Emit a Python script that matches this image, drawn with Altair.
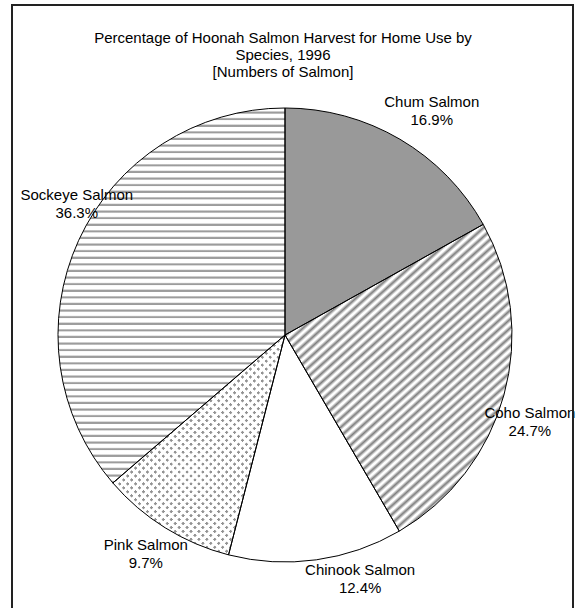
import math

import altair as alt
import pandas as pd

# Harvest shares by species, clockwise from 12 o'clock
species = ["Chum Salmon", "Coho Salmon", "Chinook Salmon", "Pink Salmon", "Sockeye Salmon"]
percent = [16.9, 24.7, 12.4, 9.7, 36.3]

# label placement: angular nudge from the slice middle (percent of circle) and distance from centre (px)
label_shift = [0.51, 0.66, -2.72, 0.46, 2.58]
label_radius = [275, 257, 247, 252, 251]

title_lines = [
    "Percentage of Hoonah Salmon  Harvest for Home Use by",
    "Species, 1996",
    "[Numbers of Salmon]",
]

W, H = 581, 608
CX, CY, R = 285, 335, 227
FONT = "Liberation Sans"
FONT_SIZE = 15
WHITE = "#ffffff"
CLEAR = "rgba(255,255,255,0)"

df = pd.DataFrame({
    "species": species,
    "pct": percent,
    "order": list(range(len(species))),
    "shift": label_shift,
    "lab_r": label_radius,
})


def sector_bbox(name):
    """Bounding box of one pie sector, relative to the pie centre."""
    i = species.index(name)
    start = sum(percent[:i]) / 100.0
    end = start + percent[i] / 100.0
    a0, a1 = start * 2 * math.pi, end * 2 * math.pi
    pts = [(0.0, 0.0),
           (R * math.sin(a0), -R * math.cos(a0)),
           (R * math.sin(a1), -R * math.cos(a1))]
    for k in range(5):
        a = k * math.pi / 2
        if a0 < a < a1:
            pts.append((R * math.sin(a), -R * math.cos(a)))
    xs = [p[0] for p in pts]
    ys = [p[1] for p in pts]
    return min(xs), min(ys), max(xs), max(ys)


def stripes(name, angle_deg, period, profile):
    """Linear gradient that repeats `profile` as parallel stripes over a sector.

    Gradient coordinates are in the sector's bounding-box units, so the
    direction is corrected for the box's aspect ratio."""
    x0, y0, x1, y1 = sector_bbox(name)
    bw, bh = x1 - x0, y1 - y0
    t = math.radians(angle_deg)
    nx, ny = math.sin(t), math.cos(t)
    corners = [(0, 0), (1, 0), (0, 1), (1, 1)]
    s = [(x0 + u * bw) * nx + (y0 + v * bh) * ny for u, v in corners]
    q = corners[s.index(min(s))]
    length = max(s) - min(s)
    ax, ay = bw * nx / length, bh * ny / length
    mag = ax * ax + ay * ay
    gx, gy = ax / mag, ay / mag
    n = int(math.ceil(length / period)) + 1
    stops = []
    last = 0.0
    for k in range(n):
        for off, col in profile:
            o = (k + off) * period / length
            if o > 1:
                break
            o = max(o, last)
            last = o
            stops.append(alt.GradientStop(color=col, offset=round(o, 5)))
    return alt.LinearGradient(
        gradient="linear",
        stops=stops,
        x1=q[0], y1=q[1], x2=q[0] + gx, y2=q[1] + gy,
    )


horizontal_profile = [(0.0, WHITE), (0.42, WHITE), (0.55, "#c4c4c4"), (0.63, "#9c9c9c"),
                      (0.8, "#9c9c9c"), (0.9, WHITE), (1.0, WHITE)]
diagonal_profile = [(0.0, WHITE), (0.1, WHITE), (0.5, "#7e7e7e"), (0.9, WHITE), (1.0, WHITE)]
dot_mask_profile = [(0.0, WHITE), (0.4, WHITE), (0.5, CLEAR), (0.84, CLEAR), (0.94, WHITE), (1.0, WHITE)]

theta_scale = alt.Scale(domain=[0, 100], range=[0, 2 * math.pi])


def stacked(chart):
    return (chart
            .transform_window(cum="sum(pct)", sort=[alt.SortField("order")], frame=[None, 0])
            .transform_calculate(start="datum.cum - datum.pct",
                                 mid="datum.cum - datum.pct / 2"))


def slice_layer(name, **mark_kw):
    return (stacked(alt.Chart(df))
            .transform_filter(alt.datum.species == name)
            .mark_arc(radius=R, **mark_kw)
            .encode(
                theta=alt.Theta("start:Q", scale=theta_scale, stack=None),
                theta2="cum:Q",
                x=alt.value(CX),
                y=alt.value(CY),
            ))


layers = [
    slice_layer("Chum Salmon", fill="#999999"),
    slice_layer("Coho Salmon", fill=stripes("Coho Salmon", 42, 6.6, diagonal_profile)),
    slice_layer("Chinook Salmon", fill=WHITE),
    slice_layer("Pink Salmon", fill="#939393"),
    slice_layer("Pink Salmon", fill=stripes("Pink Salmon", 45, 5.6, dot_mask_profile)),
    slice_layer("Pink Salmon", fill=stripes("Pink Salmon", -45, 5.6, dot_mask_profile)),
    slice_layer("Sockeye Salmon", fill=stripes("Sockeye Salmon", 0, 6.6, horizontal_profile)),
]

outline = (stacked(alt.Chart(df))
           .mark_arc(radius=R, filled=False, stroke="#000000", strokeWidth=1)
           .encode(
               theta=alt.Theta("start:Q", scale=theta_scale, stack=None),
               theta2="cum:Q",
               x=alt.value(CX),
               y=alt.value(CY),
           ))

labels = (stacked(alt.Chart(df))
          .transform_calculate(
              lab_theta="datum.mid + datum.shift",
              label="datum.species + '\\n' + format(datum.pct, '.1f') + '%'")
          .mark_text(font=FONT, fontSize=FONT_SIZE, color="#000000", align="center",
                     baseline="middle", lineBreak="\n", lineHeight=18)
          .encode(
              theta=alt.Theta("lab_theta:Q", scale=theta_scale, stack=None),
              radius=alt.Radius("lab_r:Q", scale=None),
              text="label:N",
              x=alt.value(CX),
              y=alt.value(CY),
          ))

one_row = pd.DataFrame({"k": [0]})

title = (alt.Chart(one_row)
         .mark_text(font=FONT, fontSize=FONT_SIZE, color="#000000", align="center",
                    baseline="middle", lineHeight=17)
         .encode(text=alt.value(title_lines), x=alt.value(283), y=alt.value(38)))

frame = (alt.Chart(one_row)
         .mark_rect(fill="transparent", stroke="#222222", strokeWidth=2)
         .encode(x=alt.value(12), x2=alt.value(573), y=alt.value(5), y2=alt.value(H + 40)))

chart = (alt.layer(*layers, outline, labels, title, frame)
         .properties(width=W, height=H, padding=0,
                     autosize=alt.AutoSizeParams(type="none"),
                     background="#ffffff")
         .configure_view(strokeWidth=0))

chart.save("out.html", embed_options={"renderer": "svg", "actions": False})
